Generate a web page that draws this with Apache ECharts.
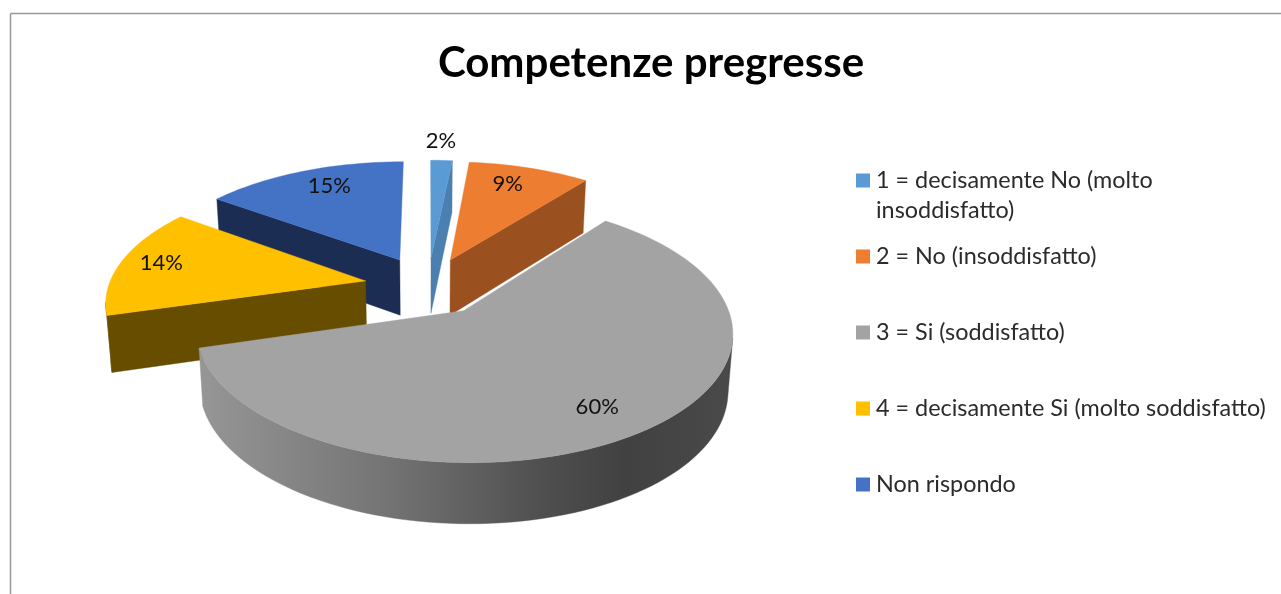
<!DOCTYPE html>
<html>
<head>
<meta charset="utf-8">
<style>html,body{margin:0;padding:0;background:#fff}#c{width:1281px;height:594px}</style>
<script src="https://cdn.jsdelivr.net/npm/echarts@6/dist/echarts.min.js"></script>
</head>
<body>
<div id="c"></div>
<script>
const titleText = 'Competenze pregresse';
const categories = ['1 = decisamente No (molto', '2 = No (insoddisfatto)', '3 = Si (soddisfatto)', '4 = decisamente Si (molto soddisfatto)', 'Non rispondo'];
const categoryContinuation = 'insoddisfatto)';
const shares = [1.6, 9.0, 59.9, 14.49, 15.01];

const topColors = ['#5B9BD5', '#ED7D31', '#A3A3A3', '#FFC000', '#4472C4'];
const faceColors = ['#4A7FAF', '#9B511F', '#8f8f8f', '#664D00', '#1B2D52'];
const drawOrder = [0, 1, 4, 3, 2];
// per-slice explosion, and label placement in the pie's own plane
const sliceExplode = [0.24, 0.24, 0.24, 0.248, 0.25];
const labelRadius = [1.24, 0.8, 0.8, 0.84, 0.8];
const labelShift = [-0.6, -2.5, 0.9, 1, 3];

// perspective camera for the 3-D pie; rimFrom/rimTo bound the viewer-facing rim
const cam = {cx: 428, cy: 286, a: 257, b: 120.5, k: 0.152, depth: 56, depthK: 0.07, shrink: 0.984, rimFrom: 102, rimTo: 260};
const total = shares.reduce((s, v) => s + v, 0);
const rad = d => d * Math.PI / 180;
const angles = [];
shares.reduce((acc, v, i) => { angles[i] = [acc, acc + v / total * 360]; return acc + v / total * 360; }, 0);

function upperPoint(u, v) {
  const den = 1 + cam.k * v;
  return [cam.cx + cam.a * u / den, cam.cy - cam.b * v / den];
}
function lowerPoint(u, v) {
  const p = upperPoint(u, v);
  return [cam.cx + (p[0] - cam.cx) * cam.shrink, p[1] + cam.depth / (1 + cam.depthK * v)];
}
function wedgeFrame(i) {
  const [s, e] = angles[i];
  const mid = (s + e) / 2;
  return {s, e, mid, ou: sliceExplode[i] * Math.sin(rad(mid)), ov: sliceExplode[i] * Math.cos(rad(mid))};
}
function arc(f, fn, from, to) {
  const pts = [], n = Math.max(2, Math.ceil(Math.abs(to - from) / 2));
  for (let j = 0; j <= n; j++) {
    const t = rad(from + (to - from) * j / n);
    pts.push(fn(f.ou + Math.sin(t), f.ov + Math.cos(t)));
  }
  return pts;
}
function poly(points, fill) {
  return {type: 'polygon', shape: {points}, style: {fill, stroke: fill, lineWidth: 0.4}};
}
function wallFill(i) {
  if (i !== 2) return faceColors[i];
  return {type: 'linear', x: 200, y: 0, x2: 733, y2: 0, global: true, colorStops: [
    {offset: 0, color: '#969696'}, {offset: 0.35, color: '#747474'},
    {offset: 0.65, color: '#4e4e4e'}, {offset: 0.8, color: '#414141'}, {offset: 1, color: '#4a4a4a'}
  ]};
}
function renderSlice(i) {
  const f = wedgeFrame(i);
  const apexT = upperPoint(f.ou, f.ov), apexL = lowerPoint(f.ou, f.ov);
  const edge = (a, fn) => fn(f.ou + Math.sin(rad(a)), f.ov + Math.cos(rad(a)));
  const face = a => poly([apexT, edge(a, upperPoint), edge(a, lowerPoint), apexL], faceColors[i]);
  const children = [];
  // only the rim and cut faces that look towards the viewer are drawn
  const wallFrom = Math.max(f.s, cam.rimFrom), wallTo = Math.min(f.e, cam.rimTo);
  if (wallTo > wallFrom) {
    children.push(poly(arc(f, upperPoint, wallFrom, wallTo).concat(arc(f, lowerPoint, wallTo, wallFrom)), wallFill(i)));
  }
  if (Math.sin(rad(f.s)) < 0) children.push(face(f.s));
  if (Math.sin(rad(f.e)) > 0.0001) children.push(face(f.e));
  children.push(poly([apexT].concat(arc(f, upperPoint, f.s, f.e)), topColors[i]));
  const la = rad(f.mid + labelShift[i]);
  const lp = upperPoint(f.ou + labelRadius[i] * Math.sin(la), f.ov + labelRadius[i] * Math.cos(la));
  children.push({type: 'text', style: {
    x: lp[0], y: lp[1], text: Math.round(shares[i] / total * 100) + '%',
    fill: '#111', font: '22px Lato', align: 'center', verticalAlign: 'middle'
  }});
  return {type: 'group', children};
}

const series = drawOrder.map((i, order) => ({
  type: 'custom', name: categories[i], coordinateSystem: 'none', silent: true, z: 2 + order,
  itemStyle: {color: topColors[i]}, data: [shares[i]], animation: false,
  renderItem: () => renderSlice(i)
}));

const chart = echarts.init(document.getElementById('c'), null, {renderer: 'canvas'});
chart.setOption({
  animation: false,
  backgroundColor: '#fff',
  title: {text: titleText, left: 646, top: 37, textAlign: 'center',
    textStyle: {fontFamily: 'Lato', fontWeight: 'bold', fontSize: 42, color: '#000'}},
  legend: {
    orient: 'vertical', left: 856, top: 169, padding: 0, itemGap: 53, itemWidth: 14, itemHeight: 14, icon: 'rect',
    selectedMode: false, data: categories,
    textStyle: {fontFamily: 'Lato', fontSize: 23.4, color: '#2b2b2b', padding: [0, 0, 0, 1]}
  },
  graphic: [
    {type: 'line', shape: {x1: 10.5, y1: 13.5, x2: 1281, y2: 13.5}, style: {stroke: '#999', lineWidth: 1.5}},
    {type: 'line', shape: {x1: 10.5, y1: 13.5, x2: 10.5, y2: 594}, style: {stroke: '#999', lineWidth: 1.5}},
    {type: 'text', left: 876, top: 199, style: {text: categoryContinuation, fill: '#2b2b2b', font: '23.4px Lato'}}
  ],
  series
});
</script>
</body>
</html>
